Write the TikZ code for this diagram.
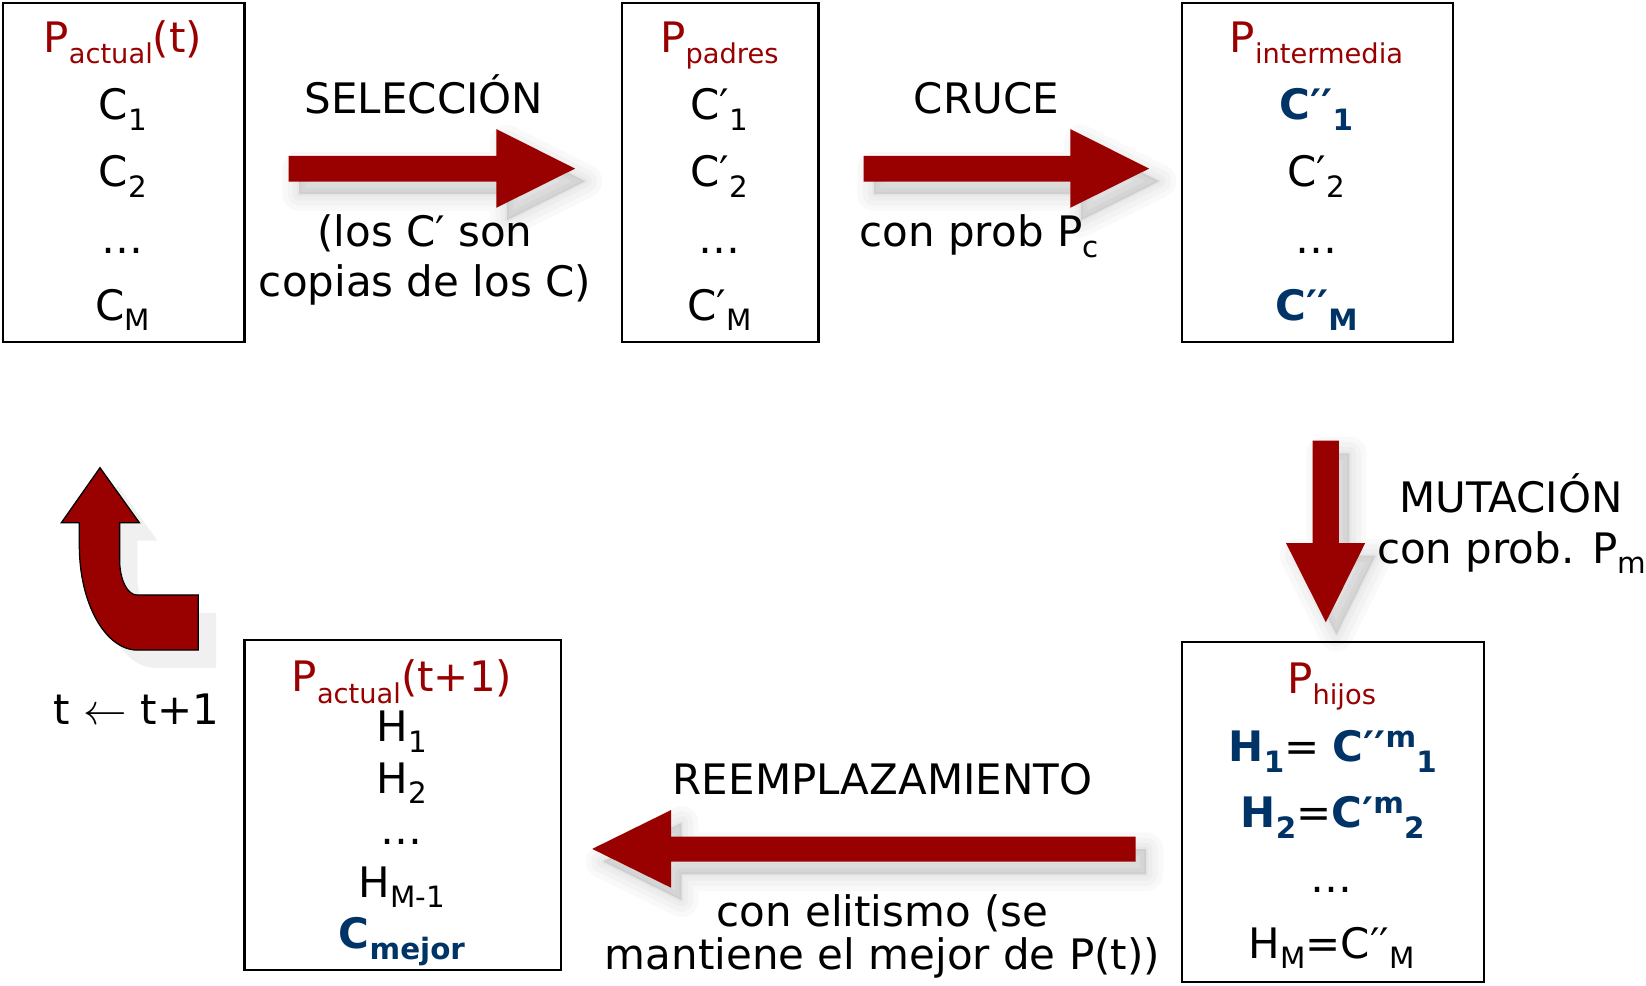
\documentclass[tikz,border=0pt]{standalone}
\usepackage{fontspec}
\setmainfont{DejaVu Sans}
\definecolor{ared}{RGB}{153,0,0}
\definecolor{ablue}{RGB}{0,51,102}
\definecolor{shgray}{RGB}{240,240,240}
\newcommand\mysb[1]{\raisebox{-5pt}{\fontsize{14}{14}\selectfont #1}}
\newcommand\mytsb[1]{\raisebox{-5.5pt}{\fontsize{13}{13}\selectfont #1}}
\newcommand\mysp[1]{\raisebox{7pt}{\fontsize{14}{14}\selectfont #1}}
\newcommand\arrA{(275,148.5) -- (473,148.5) -- (473,123) -- (548,160.7) -- (473,198) -- (473,173) -- (275,173) -- cycle}
\newcommand\arrB{(823,148.5) -- (1020,148.5) -- (1020,123) -- (1095,160.7) -- (1020,198) -- (1020,173) -- (823,173) -- cycle}
\newcommand\arrC{(1251,420) -- (1276,420) -- (1276,517.5) -- (1301,517.5) -- (1263.5,593) -- (1225.5,517.5) -- (1251,517.5) -- cycle}
\newcommand\arrD{(1082.3,797.3) -- (639.5,797.3) -- (639.5,772) -- (564.4,809) -- (639.5,846) -- (639.5,821.2) -- (1082.3,821.2) -- cycle}
\newcommand\softshadow[1]{%
  \begin{scope}[shift={(10,12)}]
    \foreach \w in {16,11,6,2}{\filldraw[black, opacity=0.022, line width=\w pt, line join=round] #1;}
  \end{scope}}
\begin{document}
\begin{tikzpicture}[x=0.5pt,y=-0.5pt,
  box/.style={draw=black, line width=1pt, anchor=north west, inner sep=0pt, minimum height=161.5pt},
  lbl/.style={inner sep=0pt, anchor=base, font=\fontsize{20}{24}\selectfont},
  ttl/.style={lbl, text=ared},
  bl/.style={lbl, text=ablue, font=\fontsize{20}{24}\selectfont\bfseries},
  blk/.style={fill=ared}]
\useasboundingbox (0,0) rectangle (1568.6,939.6);
\fill[white] (0,0) rectangle (1568.6,939.6);

% arrow shadows
\softshadow{\arrA}
\softshadow{\arrB}
\softshadow{\arrC}
\softshadow{\arrD}

% boxes
\node[box, minimum width=115pt] (b1) at (2,2) {};
\node[box, minimum width=93.5pt] (b2) at (592,2) {};
\node[box, minimum width=129.5pt] (b3) at (1125,2) {};
\node[box, minimum width=144pt, minimum height=162pt] (b4) at (1125,611) {};
\node[box, minimum width=151pt, minimum height=157pt] (b5) at (232,609) {};

% box 1
\node[ttl] (b1t) at (117,50) {P\mytsb{actual}(t)};
\node[lbl] (b1a) at (117,114) {C\mysb{1}};
\node[lbl] (b1b) at (117,178) {C\mysb{2}};
\node[lbl] (b1c) at (117,242) {…};
\node[lbl] (b1d) at (117,305) {C\mysb{M}};

% box 2
\node[ttl] (b2t) at (685.5,50) {P\mytsb{padres}};
\node[lbl] (b2a) at (685.5,114) {C′\mysb{1}};
\node[lbl] (b2b) at (685.5,178) {C′\mysb{2}};
\node[lbl] (b2c) at (685.5,242) {…};
\node[lbl] (b2d) at (685.5,305) {C′\mysb{M}};

% box 3
\node[ttl] (b3t) at (1254.5,50) {P\mytsb{intermedia}};
\node[bl] (b3a) at (1254.5,114) {C′′\mysb{1}};
\node[lbl] (b3b) at (1254.5,178) {C′\mysb{2}};
\node[lbl] (b3c) at (1254.5,242) {…};
\node[bl] (b3d) at (1254.5,305) {C′′\mysb{M}};

% box 4
\node[ttl] (b4t) at (1269,660.5) {P\mytsb{hijos}};
\node[lbl] (b4a) at (1270,726) {{\color{ablue}\bfseries H\mysb{1}}= {\color{ablue}\bfseries C′′\mysp{m}\mysb{1}}};
\node[lbl] (b4b) at (1270,789) {{\color{ablue}\bfseries H\mysb{2}}={\color{ablue}\bfseries C′\mysp{m}\mysb{2}}};
\node[lbl] (b4c) at (1269,851) {…};
\node[lbl] (b4d) at (1269,913) {H\mysb{M}=C′′\mysb{M}};

% box 5
\node[ttl] (b5t) at (383,659) {P\mytsb{actual}(t+1)};
\node[lbl] (b5a) at (383,707) {H\mysb{1}};
\node[lbl] (b5b) at (383,756) {H\mysb{2}};
\node[lbl] (b5c) at (383,805) {…};
\node[lbl] (b5d) at (383,855) {H\mysb{M-1}};
\node[bl] (b5e) at (383,904) {C\mysb{mejor}};

% arrows
\fill[blk] \arrA;
\fill[blk] \arrB;
\fill[blk] \arrC;
\fill[blk] \arrD;

% curved arrow (shadow then arrow)
\begin{scope}[shift={(17,17)}]
\fill[shgray] (95.3,445.7) -- (132.8,498.1) -- (114,498.1) -- (114,533.7)
  .. controls (114,552.1) and (121.3,567) .. (130.4,567) -- (189,567) -- (189,619.5) -- (131,619.5)
  .. controls (100.4,619.5) and (75.6,575) .. (75.6,520) -- (75.6,498.1) -- (58.5,498.1) -- cycle;
\end{scope}
\filldraw[fill=ared, draw=black, line width=0.6pt, line join=miter] (95.3,445.7) -- (132.8,498.1) -- (114,498.1) -- (114,533.7)
  .. controls (114,552.1) and (121.3,567) .. (130.4,567) -- (189,567) -- (189,619.5) -- (131,619.5)
  .. controls (100.4,619.5) and (75.6,575) .. (75.6,520) -- (75.6,498.1) -- (58.5,498.1) -- cycle;

% labels
\node[lbl] (l1) at (404,108) {SELECCIÓN};
\node[lbl] (l2) at (405,235) {(los C′ son};
\node[lbl] (l3) at (405,283) {copias de los C)};
\node[lbl] (l4) at (940,108) {CRUCE};
\node[lbl] (l5) at (933,235) {con prob P\mysb{c}};
\node[lbl] (l6) at (1440,488.6) {MUTACIÓN};
\node[lbl, anchor=base west] (l7) at (1312,537) {con prob. P\mysb{m}};
\node[lbl] (l8) at (841,757.6) {REEMPLAZAMIENTO};
\node[lbl] (l9) at (841,883) {con elitismo (se};
\node[lbl] (l10) at (841,924) {mantiene el mejor de P(t))};
\node[lbl] (l11) at (130,690) {t \(\leftarrow\) t+1};
\end{tikzpicture}
\end{document}
